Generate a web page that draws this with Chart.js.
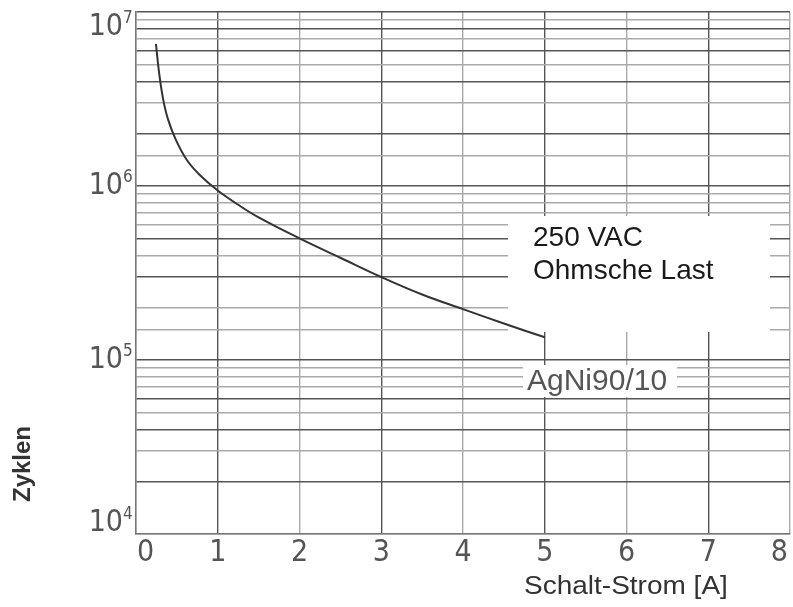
<!DOCTYPE html>
<html>
<head>
<meta charset="utf-8">
<script src="https://cdn.jsdelivr.net/npm/chart.js@4.4.1/dist/chart.umd.min.js"></script>
<style>
  html, body { margin: 0; padding: 0; background: #fff; }
  #wrap { width: 793px; height: 607px; }
</style>
</head>
<body>
<div id="wrap"><canvas id="lifeChart" width="793" height="607"></canvas></div>
<script>
// Schaltstrom [A] und Lebensdauer [Zyklen]
const current = [0.244, 0.28, 0.329, 0.39, 0.488, 0.622, 0.78, 1.0, 1.25, 1.5, 2.0, 2.5, 3.0, 3.5, 4.0, 4.5, 5.0];
const cycles = [6.55e6, 4.58e6, 3.21e6, 2.43e6, 1.84e6, 1.41e6, 1.157e6, 0.942e6, 0.78e6, 0.66e6, 0.5e6, 0.387e6, 0.3e6, 0.238e6, 0.196e6, 0.162e6, 0.135e6];

const xTicks = [0, 1, 2, 3, 4, 5, 6, 7, 8];
const yDecades = [1e4, 1e5, 1e6, 1e7];
const yExponents = ["4", "5", "6", "7"];
// darker horizontal lines (the scan has uneven line weights)
const darkYLines = [2e4, 4e4, 6e4, 1e5, 3e5, 5e5, 1e6, 2e6, 4e6, 6e6, 8e6, 1e7];

const TICK_FONT = '"Liberation Sans Narrow", "DejaVu Sans Condensed", "Liberation Sans", sans-serif';
const TEXT_FONT = '"Liberation Sans", Arial, sans-serif';

function isDark(v) {
  return darkYLines.some(d => Math.abs(d - v) / d < 0.01);
}

// white label boxes + texts + tick labels
const decorPlugin = {
  id: "decor",
  beforeDatasetsDraw(chart) {
    const ctx = chart.ctx;
    ctx.save();
    ctx.fillStyle = "#fff";
    ctx.fillRect(508, 216, 262, 116);
    ctx.fillRect(523, 365, 154, 32);
    ctx.restore();
  },
  afterDraw(chart) {
    const ctx = chart.ctx;
    const xs = chart.scales.x, ys = chart.scales.y;
    const area = chart.chartArea;
    ctx.save();

    // x tick labels
    ctx.fillStyle = "#555";
    ctx.font = "30px " + TICK_FONT;
    ctx.textBaseline = "middle";
    ctx.textAlign = "center";
    xTicks.forEach(v => {
      const w = ctx.measureText(String(v)).width;
      let px = xs.getPixelForValue(v);
      px = Math.min(Math.max(px, area.left + w / 2 + 1), area.right - w / 2 - 2);
      ctx.fillText(String(v), px, area.bottom + 19);
    });

    // y tick labels 10^n
    yDecades.forEach((v, i) => {
      let py = ys.getPixelForValue(v);
      py = Math.min(Math.max(py, area.top + 15), area.bottom - 11);
      ctx.font = "30px " + TICK_FONT;
      ctx.textAlign = "right";
      ctx.textBaseline = "middle";
      const right = 123;
      ctx.fillText("10", right, py);
      ctx.font = "17px " + TICK_FONT;
      ctx.textAlign = "left";
      ctx.fillText(yExponents[i], right, py - 8);
    });

    // axis titles
    ctx.fillStyle = "#333";
    ctx.font = "25px " + TEXT_FONT;
    ctx.textAlign = "left";
    ctx.textBaseline = "middle";
    ctx.save();
    ctx.translate(524, 587);
    ctx.scale(1.12, 1);
    ctx.fillText("Schalt-Strom [A]", 0, 0);
    ctx.restore();

    ctx.save();
    ctx.translate(23, 464);
    ctx.rotate(-Math.PI / 2);
    ctx.font = "bold 24px " + TEXT_FONT;
    ctx.textAlign = "center";
    ctx.fillText("Zyklen", 0, 0);
    ctx.restore();

    // annotations
    ctx.fillStyle = "#1a1a1a";
    ctx.font = "28px " + TEXT_FONT;
    ctx.textAlign = "left";
    ctx.fillText("250 VAC", 533, 238);
    ctx.fillText("Ohmsche Last", 533, 271);

    ctx.fillStyle = "#555";
    ctx.font = "30px " + TEXT_FONT;
    ctx.fillText("AgNi90/10", 527, 382);

    ctx.restore();
  }
};

new Chart(document.getElementById("lifeChart"), {
  type: "line",
  data: {
    datasets: [{
      label: "AgNi90/10",
      data: current.map((x, i) => ({ x: x, y: cycles[i] })),
      borderColor: "#333",
      borderWidth: 2,
      pointRadius: 0,
      tension: 0.4,
      fill: false
    }]
  },
  options: {
    responsive: false,
    animation: false,
    layout: { padding: { left: 136, right: 3, top: 12, bottom: 73 } },
    plugins: {
      legend: { display: false },
      tooltip: { enabled: false }
    },
    scales: {
      x: {
        type: "linear",
        min: 0,
        max: 8,
        ticks: { display: false, stepSize: 1 },
        grid: {
          drawTicks: false,
          lineWidth: 1.4,
          color: ctx => (ctx.tick && ctx.tick.value % 2 === 1) ? "#555" : "#aaa"
        },
        border: { display: true, color: "#777", width: 1.5 }
      },
      y: {
        type: "logarithmic",
        min: 1e4,
        max: 1e7,
        ticks: { display: false },
        grid: {
          drawTicks: false,
          lineWidth: 1.4,
          color: ctx => (ctx.tick && isDark(ctx.tick.value)) ? "#555" : "#aaa"
        },
        border: { display: true, color: "#777", width: 1.5 }
      }
    }
  },
  plugins: [decorPlugin]
});
</script>
</body>
</html>
